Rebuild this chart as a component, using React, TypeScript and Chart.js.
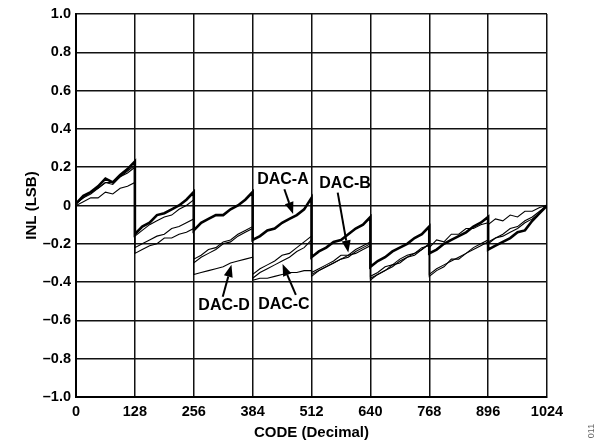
import React, { useEffect, useRef } from "react";
import { Chart, registerables } from "chart.js";

Chart.register(...registerables);

// Codes: each 128-code segment sampled every 16 codes; boundary codes repeat so the sawtooth drops vertically
const CODES = [
  0, 16, 32, 48, 64, 80, 96, 112, 128,
  128, 144, 160, 176, 192, 208, 224, 240, 256,
  256, 272, 288, 304, 320, 336, 352, 368, 384,
  384, 400, 416, 432, 448, 464, 480, 496, 512,
  512, 528, 544, 560, 576, 592, 608, 624, 640,
  640, 656, 672, 688, 704, 720, 736, 752, 768,
  768, 784, 800, 816, 832, 848, 864, 880, 896,
  896, 912, 928, 944, 960, 976, 992, 1008, 1024,
];

const DAC_A = [
  0.01, 0.05, 0.07, 0.10, 0.14, 0.12, 0.16, 0.19, 0.23,
  -0.15, -0.11, -0.09, -0.05, -0.04, -0.02, 0.00, 0.03, 0.07,
  -0.13, -0.09, -0.07, -0.05, -0.05, -0.02, 0.00, 0.03, 0.07,
  -0.18, -0.16, -0.13, -0.12, -0.09, -0.07, -0.05, -0.02, 0.04,
  -0.27, -0.24, -0.22, -0.19, -0.18, -0.15, -0.12, -0.10, -0.06,
  -0.32, -0.29, -0.27, -0.24, -0.22, -0.20, -0.17, -0.15, -0.11,
  -0.25, -0.23, -0.20, -0.18, -0.16, -0.14, -0.11, -0.09, -0.06,
  -0.23, -0.21, -0.19, -0.17, -0.14, -0.13, -0.08, -0.04, 0.00,
];

const DAC_B = [
  0.01, 0.04, 0.07, 0.09, 0.12, 0.12, 0.15, 0.18, 0.21,
  -0.16, -0.13, -0.10, -0.08, -0.06, -0.05, -0.02, 0.00, 0.03,
  -0.28, -0.26, -0.23, -0.22, -0.19, -0.18, -0.15, -0.13, -0.11,
  -0.36, -0.33, -0.31, -0.29, -0.26, -0.25, -0.22, -0.19, -0.16,
  -0.35, -0.33, -0.31, -0.29, -0.26, -0.26, -0.23, -0.21, -0.19,
  -0.37, -0.35, -0.32, -0.31, -0.28, -0.26, -0.25, -0.22, -0.21,
  -0.22, -0.18, -0.19, -0.15, -0.15, -0.12, -0.12, -0.10, -0.09,
  -0.10, -0.07, -0.08, -0.05, -0.06, -0.03, -0.03, -0.01, 0.00,
];

const DAC_C = [
  0.01, 0.04, 0.06, 0.09, 0.12, 0.11, 0.15, 0.17, 0.20,
  -0.22, -0.20, -0.18, -0.16, -0.15, -0.12, -0.11, -0.09, -0.07,
  -0.30, -0.27, -0.25, -0.23, -0.20, -0.19, -0.16, -0.14, -0.12,
  -0.38, -0.35, -0.33, -0.31, -0.29, -0.27, -0.24, -0.22, -0.18,
  -0.37, -0.34, -0.32, -0.30, -0.28, -0.27, -0.24, -0.22, -0.20,
  -0.39, -0.36, -0.34, -0.31, -0.30, -0.27, -0.25, -0.23, -0.20,
  -0.37, -0.34, -0.32, -0.28, -0.28, -0.25, -0.22, -0.20, -0.18,
  -0.19, -0.17, -0.15, -0.12, -0.11, -0.08, -0.06, -0.03, 0.00,
];

const DAC_D = [
  0.00, 0.02, 0.04, 0.04, 0.07, 0.06, 0.09, 0.10, 0.12,
  -0.25, -0.23, -0.21, -0.20, -0.17, -0.17, -0.15, -0.14, -0.12,
  -0.36, -0.35, -0.34, -0.33, -0.32, -0.30, -0.29, -0.28, -0.27,
  -0.39, -0.38, -0.38, -0.37, -0.36, -0.35, -0.35, -0.34, -0.34,
  -0.36, -0.34, -0.32, -0.30, -0.28, -0.26, -0.25, -0.23, -0.21,
  -0.38, -0.36, -0.34, -0.32, -0.29, -0.27, -0.26, -0.23, -0.20,
  -0.36, -0.33, -0.31, -0.29, -0.27, -0.25, -0.23, -0.21, -0.19,
  -0.20, -0.17, -0.16, -0.14, -0.12, -0.09, -0.07, -0.04, 0.00,
];

const X_TICKS = [0, 128, 256, 384, 512, 640, 768, 896, 1024];
const Y_TICKS = [-1.0, -0.8, -0.6, -0.4, -0.2, 0, 0.2, 0.4, 0.6, 0.8, 1.0];

const SERIES_NAMES = ["DAC-D", "DAC-C", "DAC-B", "DAC-A"];
const SERIES_VALUES = [DAC_D, DAC_C, DAC_B, DAC_A];

// Callout labels and arrows, in data units (code, LSB)
const CALLOUTS = [
  { text: "DAC-A", lx: 450, ly: 0.133, from: [453, 0.085], to: [472, -0.045] },
  { text: "DAC-B", lx: 585, ly: 0.117, from: [569, 0.067], to: [592, -0.245] },
  { text: "DAC-D", lx: 322, ly: -0.525, from: [319, -0.476], to: [338, -0.31] },
  { text: "DAC-C", lx: 452, ly: -0.52, from: [478, -0.467], to: [449, -0.305] },
];

const FONT = "'Liberation Sans', Arial, Helvetica, sans-serif";

const calloutPlugin = {
  id: "callouts",
  afterDatasetsDraw(chart: any) {
    const { ctx, scales } = chart;
    const xs = scales.x;
    const ys = scales.y;
    ctx.save();
    ctx.fillStyle = "#000";
    ctx.strokeStyle = "#000";
    ctx.font = `bold 16px ${FONT}`;
    ctx.textAlign = "center";
    ctx.textBaseline = "middle";
    for (const c of CALLOUTS) {
      const lx = xs.getPixelForValue(c.lx);
      const ly = ys.getPixelForValue(c.ly);
      ctx.fillText(c.text, lx, ly);
      const x1 = xs.getPixelForValue(c.from[0]);
      const y1 = ys.getPixelForValue(c.from[1]);
      const x2 = xs.getPixelForValue(c.to[0]);
      const y2 = ys.getPixelForValue(c.to[1]);
      const ang = Math.atan2(y2 - y1, x2 - x1);
      const headLen = 12;
      const headW = 4.5;
      const bx = x2 - headLen * Math.cos(ang);
      const by = y2 - headLen * Math.sin(ang);
      ctx.lineWidth = 2;
      ctx.beginPath();
      ctx.moveTo(x1, y1);
      ctx.lineTo(bx, by);
      ctx.stroke();
      ctx.beginPath();
      ctx.moveTo(x2, y2);
      ctx.lineTo(bx + headW * Math.sin(ang), by - headW * Math.cos(ang));
      ctx.lineTo(bx - headW * Math.sin(ang), by + headW * Math.cos(ang));
      ctx.closePath();
      ctx.fill();
    }
    // figure number
    ctx.save();
    ctx.translate(592, 431);
    ctx.rotate(-Math.PI / 2);
    ctx.font = `9px ${FONT}`;
    ctx.fillStyle = "#666";
    ctx.fillText("011", 0, 0);
    ctx.restore();
    ctx.restore();
  },
};

function fmtY(v: number): string {
  if (Math.abs(v) < 1e-9) return "0";
  return (v < 0 ? "\u2013" : "") + Math.abs(v).toFixed(1);
}

export default function App() {
  const ref = useRef<HTMLCanvasElement | null>(null);

  useEffect(() => {
    if (!ref.current) return;
    const datasets = SERIES_VALUES.map((vals, i) => ({
      label: SERIES_NAMES[i],
      data: CODES.map((c, k) => ({ x: c, y: vals[k] })),
      borderColor: "#000",
      backgroundColor: "#000",
      borderWidth: SERIES_NAMES[i] === "DAC-A" ? 2.6 : 1.1,
      pointRadius: 0,
      tension: 0,
      fill: false,
    }));

    const chart = new Chart(ref.current, {
      type: "line",
      data: { datasets },
      plugins: [calloutPlugin],
      options: {
        animation: false,
        responsive: false,
        devicePixelRatio: 1,
        layout: { padding: { top: 14, right: 52, left: 0, bottom: 0 } },
        plugins: {
          legend: { display: false },
          tooltip: { enabled: false },
        },
        scales: {
          x: {
            type: "linear",
            min: 0,
            max: 1024,
            afterBuildTicks: (s: any) => {
              s.ticks = X_TICKS.map((v) => ({ value: v }));
            },
            afterFit: (s: any) => {
              s.height = 49;
            },
            grid: { color: "#111", lineWidth: 1.5, drawTicks: false },
            border: { display: true, color: "#000", width: 2 },
            ticks: {
              padding: 6,
              color: "#000",
              font: { family: FONT, size: 14.5, weight: "bold" },
              maxRotation: 0,
              autoSkip: false,
              callback: (v: any) => String(v),
            },
            title: {
              display: true,
              text: "CODE (Decimal)",
              color: "#000",
              font: { family: FONT, size: 15, weight: "bold" },
              padding: { top: 0, bottom: 4 },
            },
          },
          y: {
            type: "linear",
            min: -1,
            max: 1,
            afterBuildTicks: (s: any) => {
              s.ticks = Y_TICKS.map((v) => ({ value: v }));
            },
            afterFit: (s: any) => {
              s.width = 76;
            },
            grid: { color: "#111", lineWidth: 1.5, drawTicks: false },
            border: { display: true, color: "#000", width: 2 },
            ticks: {
              padding: 5,
              color: "#000",
              font: { family: FONT, size: 14.5, weight: "bold" },
              autoSkip: false,
              callback: (v: any) => fmtY(Number(v)),
            },
            title: {
              display: true,
              text: "INL (LSB)",
              color: "#000",
              font: { family: FONT, size: 15, weight: "bold" },
              padding: { top: 23, bottom: 0 },
            },
          },
        },
      },
    });
    return () => chart.destroy();
  }, []);

  return (
    <div style={{ position: "absolute", left: 0, top: 0, width: 599, height: 446, background: "#fff" }}>
      <canvas ref={ref} width={599} height={446} style={{ display: "block" }} />
    </div>
  );
}
